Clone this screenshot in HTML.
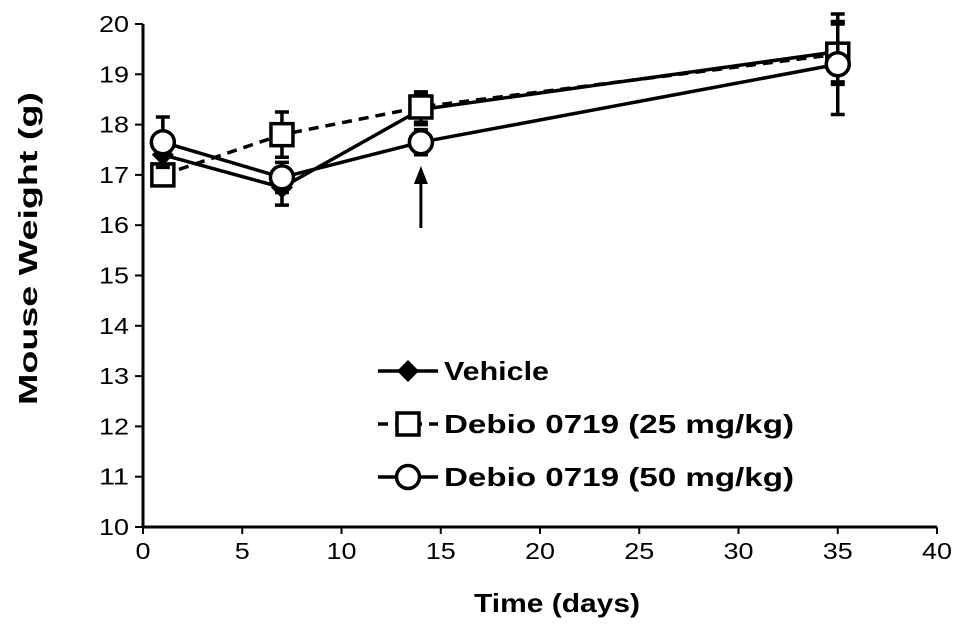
<!DOCTYPE html>
<html><head><style>
body{margin:0;background:#fff;}
svg text{font-family:"Liberation Sans",Arial,sans-serif;}
</style></head><body>
<svg id="chart" width="969" height="628">
<g id="axes"></g><g id="series"></g><g id="legend"></g>
</svg>
<script>
const days=[1,7,14,35];
const vehicle=[17.4,16.75,18.3,19.45];
const vehicleErr=[0.3,0.35,0.3,0.6];
const dose25=[17.0,17.8,18.35,19.4];
const dose25Err=[0.2,0.45,0.3,0.6];
const dose50=[17.65,16.95,17.65,19.2];
const dose50Err=[0.5,0.3,0.25,1.0];
const xTicks=[0,5,10,15,20,25,30,35,40];
const yTicks=[10,11,12,13,14,15,16,17,18,19,20];
const NS="http://www.w3.org/2000/svg";
const X=v=>143+v*19.85, Y=v=>527-(v-10)*50.3;
function mk(tag,attrs,parent,text){const e=document.createElementNS(NS,tag);for(const k in attrs)e.setAttribute(k,attrs[k]);if(text!==undefined)e.textContent=text;parent.appendChild(e);return e;}
const ax=document.getElementById('axes'),sr=document.getElementById('series'),lg=document.getElementById('legend');
let a=mk('line',{x1:X(0),y1:Y(10),x2:X(40),y2:Y(10),stroke:'#000','stroke-width':3},ax);

a=mk('line',{x1:X(0),y1:Y(10)+1,x2:X(0),y2:Y(20),stroke:'#000','stroke-width':3},ax);

xTicks.forEach(t=>{mk('line',{x1:X(t),y1:Y(10),x2:X(t),y2:Y(10)+7,stroke:'#000','stroke-width':2},ax);
const s=String(t);
const tx=mk('text',{x:X(t)-s.length*7.5,y:Y(10)+32,'font-size':23,textLength:s.length*15,lengthAdjust:'spacingAndGlyphs'},ax,s);
});
yTicks.forEach(t=>{mk('line',{x1:X(0)-8,y1:Y(t),x2:X(0),y2:Y(t),stroke:'#000','stroke-width':2},ax);
const s=String(t);
const tx=mk('text',{x:X(0)-14-s.length*15,y:Y(t)+8,'font-size':23,textLength:s.length*15,lengthAdjust:'spacingAndGlyphs'},ax,s);
});
let t=mk('text',{x:474,y:612,'font-size':26,'font-weight':'bold',textLength:166,lengthAdjust:'spacingAndGlyphs'},ax,'Time (days)');

t=mk('text',{x:0,y:37,'font-size':26,'font-weight':'bold',textLength:313,lengthAdjust:'spacingAndGlyphs',transform:'rotate(-90) translate(-405 0)'},ax,'Mouse Weight (g)');

function marker(kind,cx,cy,g){
 if(kind==='diamond')return mk('polygon',{points:`${cx},${cy-11} ${cx+11},${cy} ${cx},${cy+11} ${cx-11},${cy}`,fill:'#000'},g);
 if(kind==='square')return mk('rect',{x:cx-11,y:cy-11,width:22,height:22,fill:'#fff',stroke:'#000','stroke-width':3.5},g);
 return mk('circle',{cx,cy,r:11.5,fill:'#fff',stroke:'#000','stroke-width':3.5},g);}
function series(name,vals,errs,kind,dash){
 const g=mk('g',{},sr);
 const l=mk('polyline',{points:days.map((d,i)=>X(d)+','+Y(vals[i])).join(' '),fill:'none',stroke:'#000','stroke-width':3.5,'stroke-dasharray':dash||''},g);
 
 days.forEach((d,i)=>{const x=X(d),y1=Y(vals[i]+errs[i]),y2=Y(vals[i]-errs[i]);
  const e=mk('path',{d:`M${x},${y1}V${y2}M${x-7},${y1}H${x+7}M${x-7},${y2}H${x+7}`,stroke:'#000','stroke-width':3.5,fill:'none'},g);
  });
 days.forEach((d,i)=>{const m=marker(kind,X(d),Y(vals[i]),g);});
}
series('vehicle',vehicle,vehicleErr,'diamond');
series('dose-25',dose25,dose25Err,'square','10 7');
series('dose-50',dose50,dose50Err,'circle');
a=mk('path',{d:`M${X(14)},228 V180`,stroke:'#000','stroke-width':3},sr);

a=mk('polygon',{points:`${X(14)-7},184 ${X(14)+7},184 ${X(14)},166`,fill:'#000'},sr);

[['Vehicle','diamond','',105],['Debio 0719 (25 mg/kg)','square','10 7',350],['Debio 0719 (50 mg/kg)','circle','',350]].forEach((e,i)=>{
 const y=371+i*53;const g=mk('g',{},lg);
 mk('line',{x1:378,y1:y,x2:438,y2:y,stroke:'#000','stroke-width':3.5,'stroke-dasharray':e[2]},g);
 marker(e[1],408,y,g);
 mk('text',{x:444,y:y+9,'font-size':26,'font-weight':'bold',textLength:e[3],lengthAdjust:'spacingAndGlyphs'},g,e[0]);});
</script>
</body></html>
